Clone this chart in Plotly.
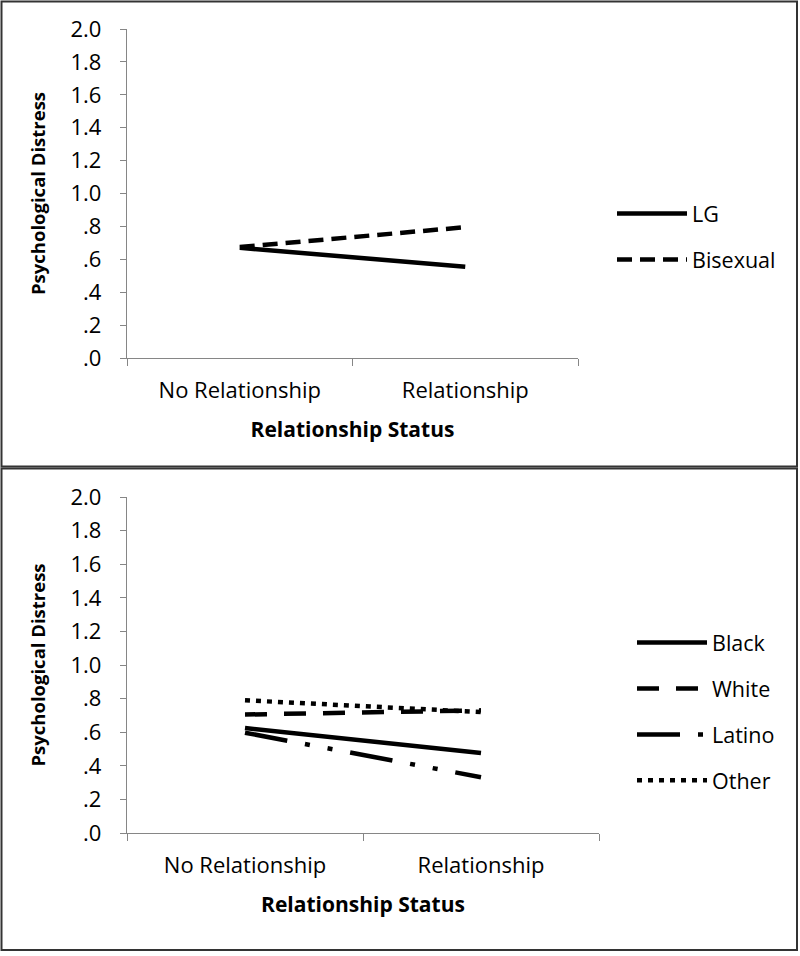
import plotly.graph_objects as go

# ---- data ----
categories = ["No Relationship", "Relationship"]

orient_names = ["LG", "Bisexual"]
lg_values = [0.67, 0.555]
bisexual_values = [0.675, 0.795]

race_names = ["Black", "White", "Latino", "Other"]
black_values = [0.625, 0.476]
white_values = [0.705, 0.73]
latino_values = [0.597, 0.332]
other_values = [0.79, 0.72]

y_tickvals = [0.0, 0.2, 0.4, 0.6, 0.8, 1.0, 1.2, 1.4, 1.6, 1.8, 2.0]
y_ticktext = [".0", ".2", ".4", ".6", ".8", "1.0", "1.2", "1.4", "1.6", "1.8", "2.0"]

x_title = "Relationship Status"
y_title = "Psychological Distress"

# ---- styles ----
FONT = "Open Sans"
W, H = 800, 956
LW = 4.5
AXC = "#868686"

fig = go.Figure()

top_series = [
    (orient_names[0], lg_values, "solid"),
    (orient_names[1], bisexual_values, "15px,8px"),
]
for name, vals, dash in top_series:
    fig.add_trace(go.Scatter(
        x=categories, y=vals, mode="lines", name=name,
        line=dict(color="black", width=LW, dash=dash),
        xaxis="x", yaxis="y", legend="legend", legendgroup=name,
    ))

bottom_series = [
    (race_names[0], black_values, "solid"),
    (race_names[1], white_values, "22px,17px"),
    (race_names[2], latino_values, "43px,18px,5px,18px,5px,18px"),
    (race_names[3], other_values, "5px,6px"),
]
for name, vals, dash in bottom_series:
    fig.add_trace(go.Scatter(
        x=categories, y=vals, mode="lines", name=name,
        line=dict(color="black", width=LW, dash=dash),
        xaxis="x2", yaxis="y2", legend="legend2", legendgroup=name,
    ))

tickfont = dict(family=FONT, size=22, color="black")
xtitlefont = dict(family=FONT, size=21, color="black", weight="bold")
ytitlefont = dict(family=FONT, size=18.5, color="black", weight="bold")

def xaxis_cfg(x0, x1):
    return dict(
        domain=[x0 / W, x1 / W], type="category",
        categoryorder="array", categoryarray=categories,
        tickson="boundaries", ticks="outside", ticklen=7, tickcolor=AXC,
        showline=True, linecolor=AXC, linewidth=1.3, showgrid=False,
        zeroline=False, tickfont=tickfont, ticklabelstandoff=12,
        title=dict(text=x_title, font=xtitlefont, standoff=19),
        range=[-0.5, 1.5], fixedrange=True, automargin=False,
    )

def yaxis_cfg(y_top, y_bot, anchor):
    return dict(
        domain=[1 - y_bot / H, 1 - y_top / H], anchor=anchor,
        range=[0, 2.0], tickvals=y_tickvals, ticktext=y_ticktext,
        ticks="outside", ticklen=6, tickcolor=AXC,
        showline=True, linecolor=AXC, linewidth=1.3, showgrid=False,
        zeroline=False, tickfont=tickfont, ticklabelstandoff=14,
        title=dict(text=y_title, font=ytitlefont, standoff=20),
        fixedrange=True, automargin=False,
    )

legend_common = dict(
    xanchor="left", yanchor="top",
    font=dict(family=FONT, size=21.5, color="black"),
    bgcolor="rgba(0,0,0,0)", itemwidth=70, tracegroupgap=15,
    traceorder="grouped",
)

fig.update_layout(
    template="plotly_white",
    width=W, height=H,
    margin=dict(l=0, r=0, t=0, b=0, autoexpand=False),
    paper_bgcolor="white", plot_bgcolor="white",
    font=dict(family=FONT, color="black"),
    xaxis=dict(**xaxis_cfg(127, 578), anchor="y"),
    yaxis=yaxis_cfg(29, 358, "x"),
    xaxis2=dict(**xaxis_cfg(127, 599), anchor="y2"),
    yaxis2=yaxis_cfg(497, 833, "x2"),
    legend=dict(x=612 / W, y=1 - 193 / H, **legend_common),
    legend2=dict(x=632 / W, y=1 - 622 / H, **legend_common),
    showlegend=True,
    shapes=[
        dict(type="rect", xref="paper", yref="paper",
             x0=1.5 / W, x1=797 / W, y0=1 - 466.5 / H, y1=1 - 1.5 / H,
             line=dict(color="#333333", width=2), fillcolor="rgba(0,0,0,0)"),
        dict(type="rect", xref="paper", yref="paper",
             x0=1.5 / W, x1=797 / W, y0=1 - 950 / H, y1=1 - 468.5 / H,
             line=dict(color="#333333", width=2), fillcolor="rgba(0,0,0,0)"),
    ],
)

fig.write_html(
    "out.html",
    config={"displayModeBar": False},
    post_script="document.body.style.margin='0';document.body.style.overflow='hidden';",
)
